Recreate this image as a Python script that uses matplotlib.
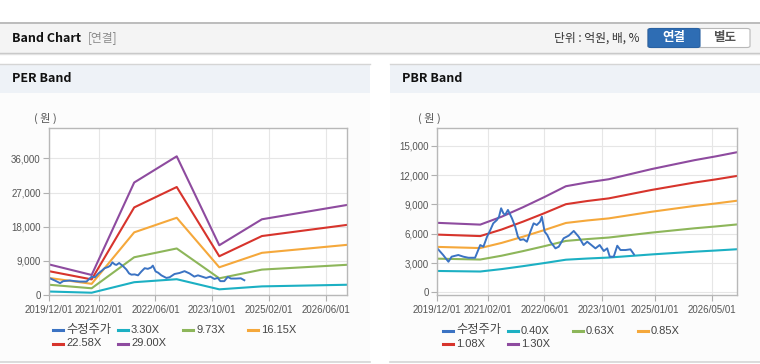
import matplotlib
matplotlib.use("Agg")
import matplotlib.pyplot as plt
from matplotlib.patches import Rectangle, FancyBboxPatch
from matplotlib.lines import Line2D
import pandas as pd
import numpy as np

plt.rcParams['font.family'] = ['Noto Sans CJK KR', 'DejaVu Sans']

# ---------------- data ----------------
price_dates = ['2019-12-01','2020-01-20','2020-03-05','2020-04-01','2020-05-28','2020-07-10','2020-08-22',
               '2020-10-18','2020-12-01','2020-12-28','2021-01-28','2021-02-25','2021-03-22','2021-04-22',
               '2021-05-10','2021-05-28','2021-06-16','2021-07-01','2021-07-25','2021-08-28','2021-09-25',
               '2021-10-18','2021-11-07','2021-12-05','2022-01-03','2022-02-01','2022-03-01','2022-03-28',
               '2022-04-25','2022-05-10','2022-06-03','2022-06-25','2022-07-22','2022-09-03','2022-10-01',
               '2022-11-12','2022-12-25','2023-02-06','2023-03-20','2023-05-01','2023-06-01','2023-06-28',
               '2023-08-10','2023-09-15','2023-10-20','2023-11-18','2023-12-10','2024-01-13','2024-02-12',
               '2024-03-10','2024-04-22','2024-06-03','2024-07-03']
price_values = [4500,3820,3130,3650,3820,3650,3540,3540,4840,4670,5690,6380,7060,7400,7740,8600,8090,7920,
                8430,7580,6720,5690,5360,5430,5180,6200,7060,6890,7230,7740,6200,5870,5180,4500,4670,5530,
                5800,6280,5690,4840,5180,4920,4500,4840,4230,4500,3650,3650,4770,4330,4330,4400,3890]

eps_dates = ['2019-12-01','2020-12-01','2021-12-01','2022-12-01','2023-12-01','2024-12-01','2026-12-01']
eps_values = [278, 182, 1022, 1260, 452, 688, 818]
per_multiples = [3.30, 9.73, 16.15, 22.58, 29.00]
per_labels = ['3.30X', '9.73X', '16.15X', '22.58X', '29.00X']

bps_dates = ['2019-12-01','2020-06-01','2020-12-01','2021-06-01','2021-12-01','2022-06-01','2022-12-01',
             '2023-06-01','2023-12-01','2024-06-01','2024-12-01','2025-06-01','2025-12-01','2026-06-01',
             '2026-12-01']
bps_values = [5470, 5400, 5330, 5950, 6700, 7500, 8350, 8650, 8900, 9300, 9700, 10050, 10400, 10700, 11030]
pbr_multiples = [0.40, 0.63, 0.85, 1.08, 1.30]
pbr_labels = ['0.40X', '0.63X', '0.85X', '1.08X', '1.30X']

per_xticks = ['2019-12-01','2021-02-01','2022-06-01','2023-10-01','2025-02-01','2026-06-01']
pbr_xticks = ['2019-12-01','2021-02-01','2022-06-01','2023-10-01','2025-01-01','2026-05-01']
per_yticks = [0, 9000, 18000, 27000, 36000]
pbr_yticks = [0, 3000, 6000, 9000, 12000, 15000]

price_label = '수정주가'
price_color = '#3b73c3'
band_colors = ['#1cb0c3', '#8db65a', '#f5a83b', '#d7342c', '#8e4b9f']

# ---------------- figure ----------------
W, H = 760, 364
fig = plt.figure(figsize=(W/100, H/100), dpi=100)
fig.patch.set_facecolor('white')

def rect(x0, y0, x1, y1, z=-10, **kw):
    r = Rectangle((x0/W, 1-y1/H), (x1-x0)/W, (y1-y0)/H, transform=fig.transFigure, zorder=z, **kw)
    fig.add_artist(r)
    return r

def hline(x0, x1, y, color, lw=1.0, z=-9):
    fig.add_artist(Line2D([x0/W, x1/W], [1-y/H, 1-y/H], transform=fig.transFigure, color=color, lw=lw, zorder=z))

def ftext(x, y, s, **kw):
    fig.text(x/W, 1-y/H, s, **kw)

# header band
rect(0, 22, W, 53, facecolor='#f4f4f4', edgecolor='none')
hline(0, W, 22.5, '#b3b3b3', 1.2)
hline(0, W, 52.5, '#c4c4c4', 1.0)
hline(0, W, 53.5, '#e2e2e2', 1.0)
ftext(12, 38, 'Band Chart', fontsize=9, fontweight='bold', color='#111111', va='center', ha='left')
ftext(88, 38, '[연결]', fontsize=8.5, color='#8a8a8a', va='center', ha='left')
ftext(640, 38, '단위 : 억원, 배, %', fontsize=8.5, color='#333333', va='center', ha='right')
# toggle button
btn = FancyBboxPatch((648/W, 1-47.5/H), (750-648)/W, 19/H, boxstyle='round,pad=0,rounding_size=0.004',
                     transform=fig.transFigure, facecolor='white', edgecolor='#b8b8b8', lw=0.8, zorder=-8)
fig.add_artist(btn)
btn2 = FancyBboxPatch((648/W, 1-47.5/H), (700-648)/W, 19/H, boxstyle='round,pad=0,rounding_size=0.004',
                      transform=fig.transFigure, facecolor='#2e6db4', edgecolor='#2a62a3', lw=0.8, zorder=-7)
fig.add_artist(btn2)
ftext(674, 38, '연결', fontsize=9, fontweight='bold', color='white', va='center', ha='center')
ftext(725, 38, '별도', fontsize=9, fontweight='bold', color='#555555', va='center', ha='center')

# panels
for (px0, px1) in [(0, 370), (390, 760)]:
    rect(px0, 64, px1, 362, facecolor='#fcfcfc', edgecolor='none')
    rect(px0, 64, px1, 93, facecolor='#eef2f7', edgecolor='none')
    hline(px0, px1, 64, '#d5d5d5', 1.0)
    hline(px0, px1, 362, '#d5d5d5', 1.2)
ftext(12, 79, 'PER Band', fontsize=9, fontweight='bold', color='#111111', va='center', ha='left')
ftext(402, 79, 'PBR Band', fontsize=9, fontweight='bold', color='#111111', va='center', ha='left')


def make_ax(left, right, top, bottom):
    ax = fig.add_axes([left/W, 1-bottom/H, (right-left)/W, (bottom-top)/H])
    ax.set_facecolor('white')
    for s in ax.spines.values():
        s.set_color('#b8b8b8')
        s.set_linewidth(1.0)
    ax.grid(True, color='#e6e6e6', lw=0.8)
    ax.set_axisbelow(True)
    ax.tick_params(axis='both', colors='#b0b0b0', labelcolor='#555555', labelsize=6.5, length=4, width=0.8)
    return ax


def style_ticks(ax, xticks, yticks):
    xt = pd.to_datetime(xticks)
    ax.set_xticks(xt)
    ax.set_xticklabels([d.strftime('%Y/%m/%d') for d in xt], family='Liberation Sans', fontsize=7, color='#555555')
    ax.set_yticks(yticks)
    ax.set_yticklabels([f'{v:,}' for v in yticks], family='Liberation Sans', fontsize=7, color='#555555')
    ax.tick_params(axis='x', pad=3)
    ax.tick_params(axis='y', pad=2)


pdates = pd.to_datetime(price_dates)
xlim = (pd.Timestamp('2019-12-01'), pd.Timestamp('2026-12-01'))

# PER chart
ax1 = make_ax(49, 347, 128, 295)
edates = pd.to_datetime(eps_dates)
for m, c in zip(per_multiples, band_colors):
    ax1.plot(edates, np.array(eps_values) * m, color=c, lw=1.5, solid_joinstyle='round')
ax1.plot(pdates, price_values, color=price_color, lw=1.4)
ax1.set_xlim(*xlim)
ax1.set_ylim(0, 44000)
style_ticks(ax1, per_xticks, per_yticks)
ftext(45, 118, '( 원 )', fontsize=8, color='#555555', va='center', ha='center')

# PBR chart
ax2 = make_ax(437.3, 737.3, 128.3, 295)
bdates = pd.to_datetime(bps_dates)
for m, c in zip(pbr_multiples, band_colors):
    ax2.plot(bdates, np.array(bps_values) * m, color=c, lw=1.5)
ax2.plot(pdates, price_values, color=price_color, lw=1.4)
ax2.set_xlim(*xlim)
ax2.set_ylim(-270, 16780)
style_ticks(ax2, pbr_xticks, pbr_yticks)
ftext(429, 118, '( 원 )', fontsize=8, color='#555555', va='center', ha='center')

# legends (manual)
def legend(entries, positions):
    for (label, color), (mx, my) in zip(entries, positions):
        fig.add_artist(Line2D([mx/W, (mx+10)/W], [1-my/H, 1-my/H], transform=fig.transFigure,
                              color=color, lw=2.2))
        fs = 8.8 if label == price_label else 8
        ftext(mx+13, my, label, fontsize=fs, color='#444444', va='center', ha='left',
              family=['Liberation Sans', 'Noto Sans CJK KR'])

per_entries = [(price_label, price_color)] + list(zip(per_labels, band_colors))
legend(per_entries, [(53, 330), (118, 330), (183, 330), (248, 330), (53, 343.5), (118, 343.5)])
pbr_entries = [(price_label, price_color)] + list(zip(pbr_labels, band_colors))
legend(pbr_entries, [(443, 330.5), (508, 330.5), (573, 330.5), (638, 330.5), (443, 344), (508, 344)])

fig.savefig('out.png', dpi=100, facecolor=fig.get_facecolor())
